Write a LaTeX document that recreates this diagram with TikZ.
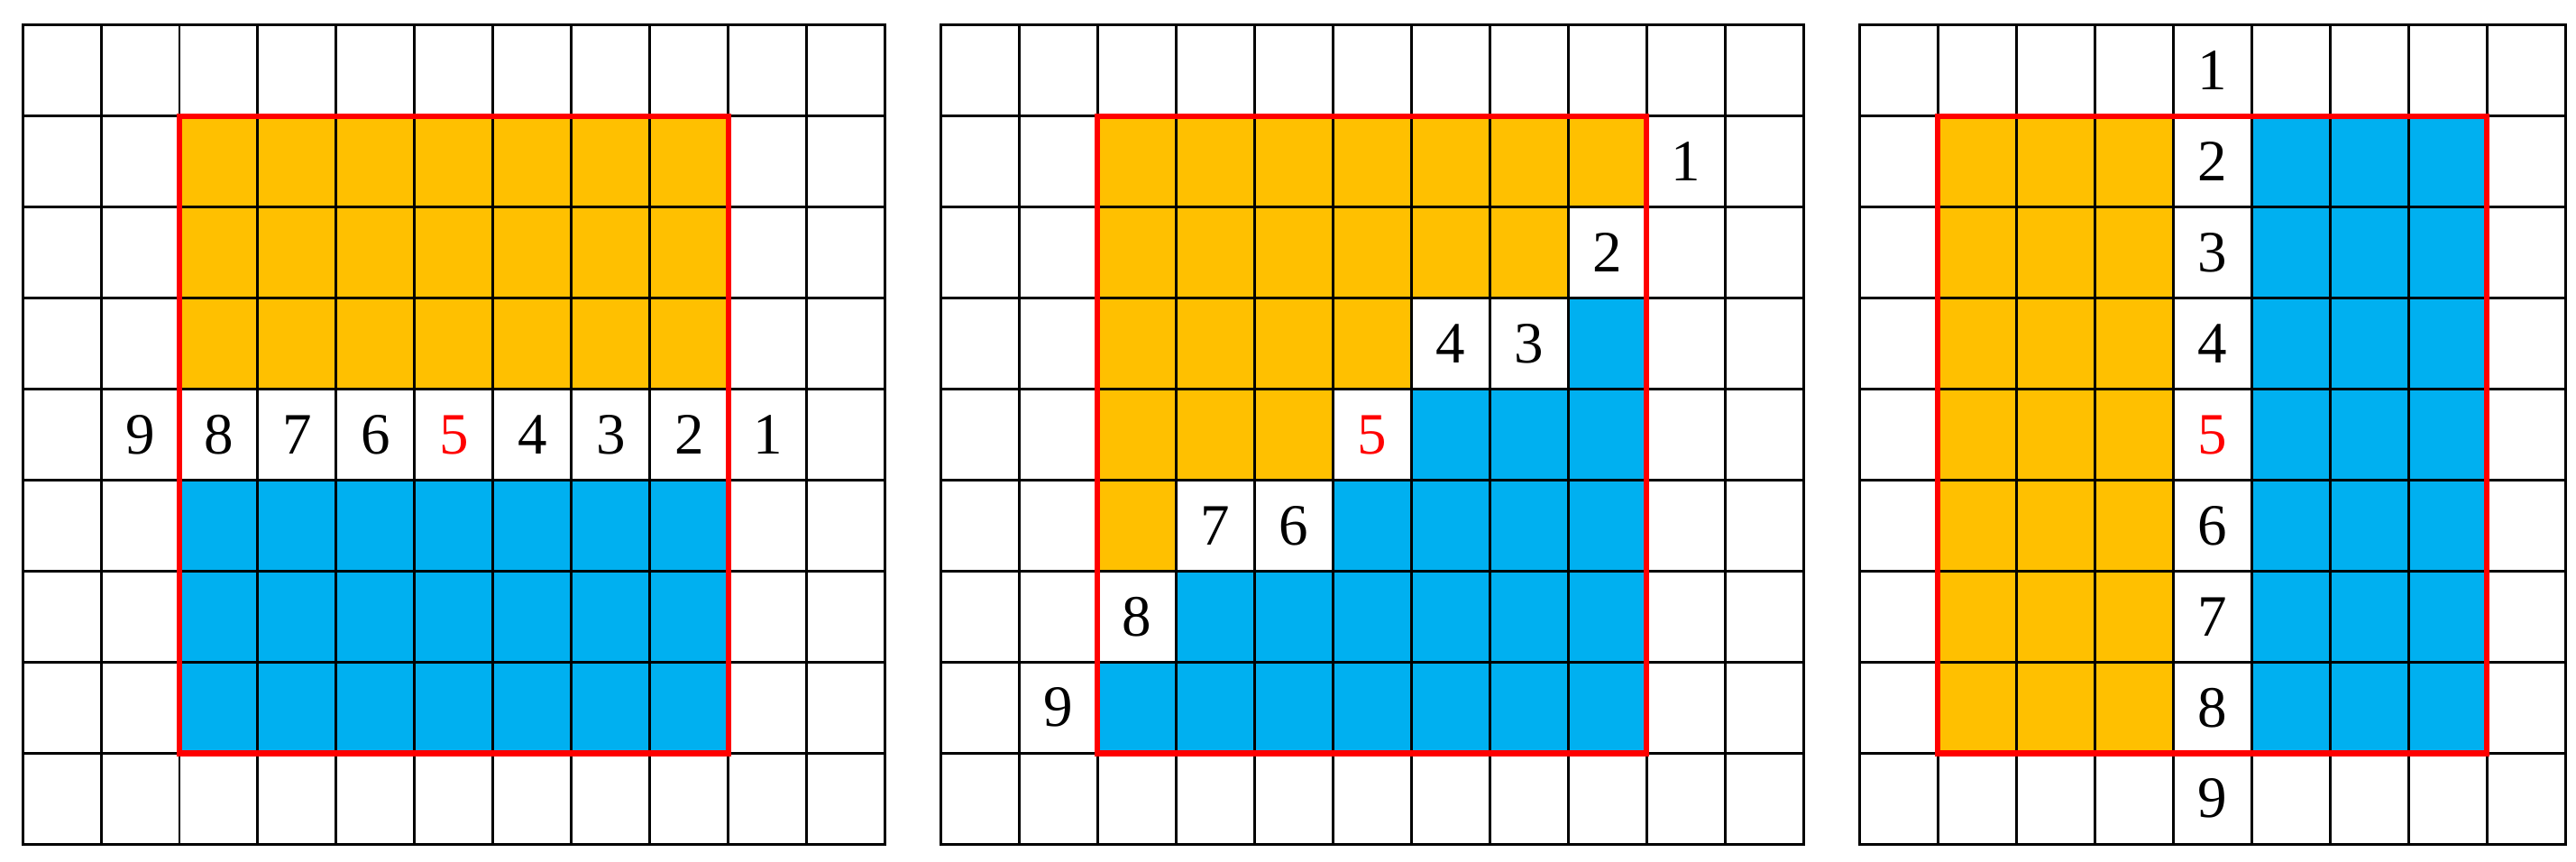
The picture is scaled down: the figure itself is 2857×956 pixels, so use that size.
\documentclass[tikz,border=0pt]{standalone}
\usepackage{fontspec}
\setmainfont{Liberation Serif}
\definecolor{gold}{HTML}{FFC000}
\definecolor{sky}{HTML}{00B0F0}
\begin{document}
\begin{tikzpicture}[x=0.3pt,y=-0.3pt]
\tikzset{
  unitcells/.style={x=26.1pt,y=-30.27pt},
  gridline/.style={black, line width=0.9pt, line cap=rect},
  redbox/.style={red, line width=2pt, line join=miter},
  num/.style={font=\fontsize{19.5}{20}\selectfont, inner sep=0pt, anchor=center},
  ofill/.style={fill=gold},
  bfill/.style={fill=sky}
}
\useasboundingbox (0,0) rectangle (2857,956);
% ---------- grid 1 ----------
\begin{scope}[shift={(25,28)}, unitcells]
  \fill[ofill] (2,1) rectangle (9,4);
  \fill[bfill] (2,5) rectangle (9,8);
  \foreach \i in {0,...,11} \draw[gridline] (\i,0) -- (\i,9);
  \foreach \j in {0,...,9} \draw[gridline] (0,\j) -- (11,\j);
  \draw[redbox] (2,1) rectangle (9,8);
  \foreach \n/\c in {9/1,8/2,7/3,6/4,4/6,3/7,2/8,1/9}
    \node[num] (a\n) at (\c+0.5,4.5) {\n};
  \node[num, text=red] (a5) at (5.5,4.5) {5};
\end{scope}
% ---------- grid 2 ----------
\begin{scope}[shift={(1043,28)}, unitcells]
  \fill[ofill] (2,1) -- (9,1) -- (9,2) -- (8,2) -- (8,3) -- (6,3) -- (6,4) -- (5,4) -- (5,5) -- (3,5) -- (3,6) -- (2,6) -- cycle;
  \fill[bfill] (9,3) -- (9,8) -- (2,8) -- (2,7) -- (3,7) -- (3,6) -- (5,6) -- (5,5) -- (6,5) -- (6,4) -- (8,4) -- (8,3) -- cycle;
  \foreach \i in {0,...,11} \draw[gridline] (\i,0) -- (\i,9);
  \foreach \j in {0,...,9} \draw[gridline] (0,\j) -- (11,\j);
  \draw[redbox] (2,1) rectangle (9,8);
  \foreach \n/\c/\r in {1/9/1,2/8/2,3/7/3,4/6/3,6/4/5,7/3/5,8/2/6,9/1/7}
    \node[num] (b\n) at (\c+0.5,\r+0.5) {\n};
  \node[num, text=red] (b5) at (5.5,4.5) {5};
\end{scope}
% ---------- grid 3 ----------
\begin{scope}[shift={(2062,28)}, unitcells]
  \fill[ofill] (1,1) rectangle (4,8);
  \fill[bfill] (5,1) rectangle (8,8);
  \foreach \i in {0,...,9} \draw[gridline] (\i,0) -- (\i,9);
  \foreach \j in {0,...,9} \draw[gridline] (0,\j) -- (9,\j);
  \draw[redbox] (1,1) rectangle (8,8);
  \foreach \n/\r in {1/0,2/1,3/2,4/3,6/5,7/6,8/7,9/8}
    \node[num] (c\n) at (4.5,\r+0.5) {\n};
  \node[num, text=red] (c5) at (4.5,4.5) {5};
\end{scope}
\end{tikzpicture}
\end{document}
